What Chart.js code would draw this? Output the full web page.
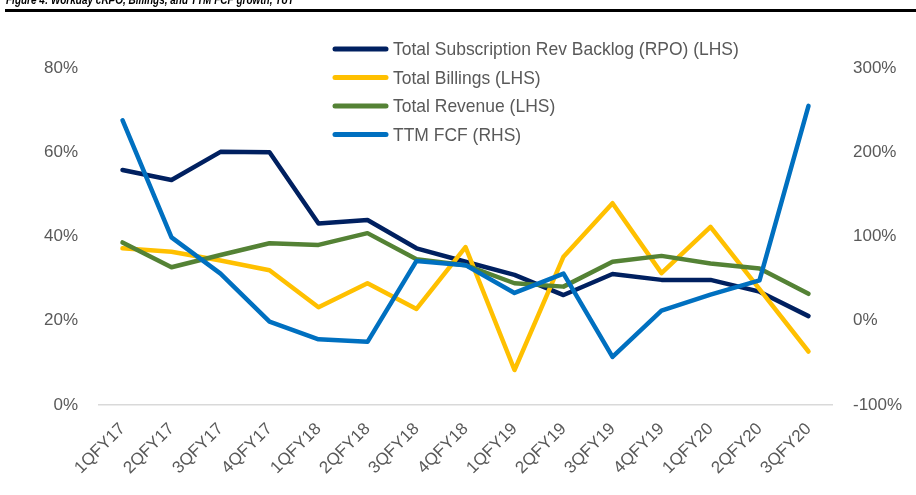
<!DOCTYPE html>
<html>
<head>
<meta charset="utf-8">
<script src="https://cdn.jsdelivr.net/npm/chart.js@4.4.1/dist/chart.umd.min.js"></script>
<style>
  html, body { margin: 0; padding: 0; background: #fff; overflow: hidden; }
  #wrap { position: relative; width: 916px; height: 495px; }
  #title { position: absolute; left: 6px; top: -6px; font: italic bold 12.5px/13px "Liberation Sans", Arial, sans-serif; color: #000; white-space: nowrap; transform: scaleX(0.8); transform-origin: 0 0; }
  #rule { position: absolute; left: 5px; right: 0; top: 9px; height: 3px; background: #000; }
  canvas { position: absolute; left: 0; top: 0; }
</style>
</head>
<body>
<div id="wrap">
  <canvas id="c" width="916" height="495"></canvas>
  <div id="title">Figure 4: Workday cRPO, Billings, and TTM FCF growth, YoY</div>
  <div id="rule"></div>
</div>
<script>
const categories = ["1QFY17","2QFY17","3QFY17","4QFY17","1QFY18","2QFY18","3QFY18","4QFY18","1QFY19","2QFY19","3QFY19","4QFY19","1QFY20","2QFY20","3QFY20"];
const rpo      = [55.8, 53.4, 60.1, 60.0, 43.1, 43.9, 37.2, 34.0, 30.9, 26.1, 31.1, 29.7, 29.7, 26.9, 21.1];
const billings = [37.2, 36.4, 34.3, 32.0, 23.2, 28.9, 22.8, 37.5, 8.3, 35.2, 47.9, 31.3, 42.3, 27.5, 12.7];
const revenue  = [38.6, 32.7, 35.6, 38.4, 38.0, 40.8, 34.6, 33.2, 28.9, 28.1, 34.0, 35.4, 33.6, 32.4, 26.4];
const ttmFcf   = [238, 99, 56, -1, -22, -25, 71, 66, 33, 56, -43, 12, 31, 48, 255];
const seriesNames = ["Total Subscription Rev Backlog (RPO) (LHS)", "Total Billings (LHS)", "Total Revenue (LHS)", "TTM FCF (RHS)"];
const leftTicks = [0, 20, 40, 60, 80];
const rightTicks = [-100, 0, 100, 200, 300];

const FONT = "'Liberation Sans', Arial, sans-serif";
const TXT = "#595959";
const colors = ["#002060", "#FFC000", "#548235", "#0070C0"];

const legendPlugin = {
  id: "customLegend",
  afterDraw(chart) {
    const ctx = chart.ctx;
    chart.data.datasets.forEach((ds, i) => {
      const y = 49 + i * 28.5;
      ctx.save();
      ctx.strokeStyle = ds.borderColor;
      ctx.lineWidth = 5;
      ctx.lineCap = "round";
      ctx.beginPath();
      ctx.moveTo(335, y);
      ctx.lineTo(386, y);
      ctx.stroke();
      ctx.translate(393, y + 1);
      ctx.scale(0.92, 1);
      ctx.fillStyle = TXT;
      ctx.font = "19px " + FONT;
      ctx.textBaseline = "middle";
      ctx.textAlign = "left";
      ctx.fillText(ds.label, 0, 0);
      ctx.restore();
    });
  }
};

const mk = (label, data, color, axis, order) => ({
  label, data, borderColor: color, backgroundColor: color, yAxisID: axis, order,
  borderWidth: 4.5, pointRadius: 0, pointHoverRadius: 0, tension: 0,
  borderCapStyle: "round", borderJoinStyle: "round", fill: false
});

new Chart(document.getElementById("c"), {
  type: "line",
  data: {
    labels: categories,
    datasets: [
      mk(seriesNames[0], rpo, colors[0], "y", 4),
      mk(seriesNames[1], billings, colors[1], "y", 3),
      mk(seriesNames[2], revenue, colors[2], "y", 2),
      mk(seriesNames[3], ttmFcf, colors[3], "y1", 1)
    ]
  },
  options: {
    responsive: false,
    animation: false,
    layout: { padding: { top: 68, left: 0, right: 0, bottom: 0 } },
    plugins: { legend: { display: false }, tooltip: { enabled: false } },
    scales: {
      x: {
        offset: true,
        grid: { display: false, drawTicks: false },
        border: { display: false },
        ticks: { maxRotation: 45, minRotation: 45, autoSkip: false, padding: 14, color: TXT, font: { family: FONT, size: 17 } },
        afterFit(s) { s.height = 90; }
      },
      y: {
        position: "left",
        min: 0, max: 80,
        afterBuildTicks(s) { s.ticks = leftTicks.map(v => ({ value: v })); },
        grid: { drawTicks: false, lineWidth: 1.5, color: ctx => (ctx.tick && ctx.tick.value === 0) ? "#D9D9D9" : "rgba(0,0,0,0)" },
        border: { display: false },
        ticks: { padding: 20, color: TXT, font: { family: FONT, size: 17 }, callback: v => v + "%" },
        afterFit(s) { s.width = 98; }
      },
      y1: {
        position: "right",
        min: -100, max: 300,
        afterBuildTicks(s) { s.ticks = rightTicks.map(v => ({ value: v })); },
        grid: { display: false, drawTicks: false },
        border: { display: false },
        ticks: { padding: 20, color: TXT, font: { family: FONT, size: 17 }, callback: v => v + "%" },
        afterFit(s) { s.width = 83; }
      }
    }
  },
  plugins: [legendPlugin]
});
</script>
</body>
</html>
